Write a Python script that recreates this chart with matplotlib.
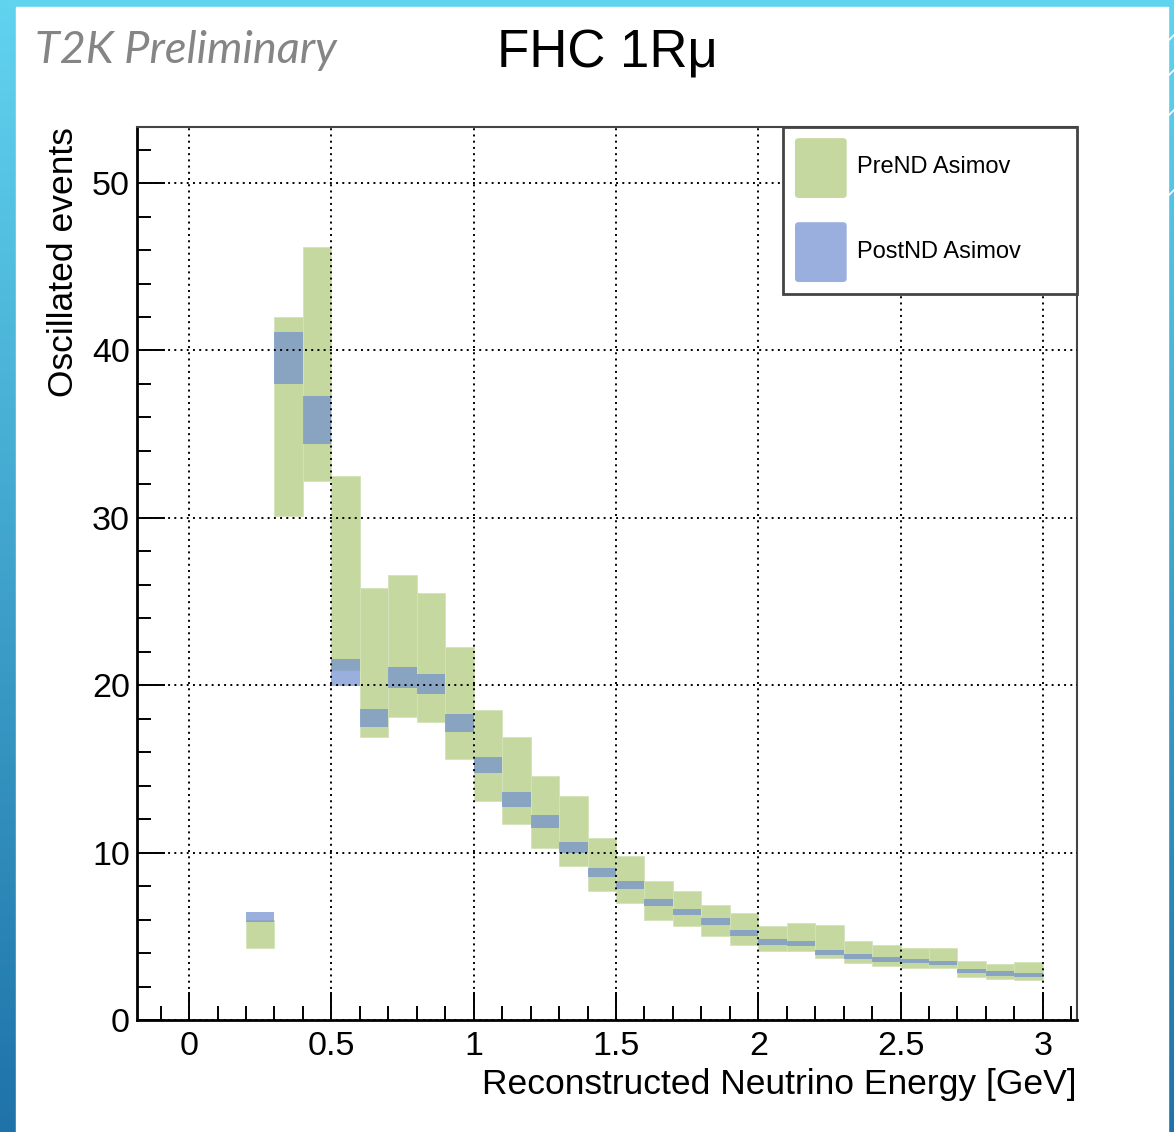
import numpy as np
import matplotlib
matplotlib.use('Agg')
import matplotlib.pyplot as plt
from matplotlib.patches import Rectangle, FancyBboxPatch
from matplotlib.ticker import MultipleLocator

# bin lower edges in GeV (0.1 GeV wide bins)
energy_lo = [0.2, 0.3, 0.4, 0.5, 0.6, 0.7, 0.8, 0.9, 1.0, 1.1, 1.2, 1.3, 1.4, 1.5,
             1.6, 1.7, 1.8, 1.9, 2.0, 2.1, 2.2, 2.3, 2.4, 2.5, 2.6, 2.7, 2.8, 2.9]
bin_width = 0.1

# PreND Asimov error band (low / high edge)
pre_low = [4.3, 30.1, 32.2, 20.9, 16.9, 18.1, 17.8, 15.6, 13.1, 11.7, 10.3, 9.2, 7.7, 7.0,
           6.0, 5.6, 5.0, 4.5, 4.1, 4.1, 3.7, 3.4, 3.2, 3.1, 3.1, 2.55, 2.45, 2.4]
pre_high = [6.0, 42.0, 46.2, 32.5, 25.8, 26.6, 25.5, 22.3, 18.5, 16.9, 14.6, 13.4, 10.9, 9.8,
            8.3, 7.7, 6.9, 6.4, 5.6, 5.8, 5.7, 4.7, 4.5, 4.3, 4.3, 3.5, 3.35, 3.45]

# PostND Asimov error band
post_low = [5.85, 38.0, 34.4, 19.95, 17.5, 19.85, 19.45, 17.2, 14.75, 12.75, 11.5, 9.95, 8.55, 7.85,
            6.8, 6.25, 5.7, 5.0, 4.5, 4.4, 3.9, 3.65, 3.45, 3.4, 3.3, 2.8, 2.65, 2.55]
post_high = [6.45, 41.1, 37.3, 21.55, 18.6, 21.1, 20.7, 18.3, 15.7, 13.6, 12.25, 10.65, 9.1, 8.3,
             7.25, 6.65, 6.1, 5.35, 4.85, 4.7, 4.2, 3.95, 3.75, 3.65, 3.55, 3.05, 2.95, 2.8]

x_ticks = [0, 0.5, 1, 1.5, 2, 2.5, 3]
x_tick_labels = ['0', '0.5', '1', '1.5', '2', '2.5', '3']

green = '#c5d8a0'
blue = '#708ed0'

plt.rcParams['font.family'] = ['Liberation Sans', 'DejaVu Sans']

W, H = 1174, 1132
fig = plt.figure(figsize=(W / 100, H / 100), dpi=100)

# slide background: blue gradient frame + white panel
bg = fig.add_axes([0, 0, 1, 1], zorder=-10)
grad = np.linspace(0, 1, 256).reshape(-1, 1)
top_c = np.array([0.38, 0.83, 0.94])
bot_c = np.array([0.12, 0.45, 0.66])
img = top_c[None, None, :] * (1 - grad[..., None]) + bot_c[None, None, :] * grad[..., None]
img = np.repeat(img, 2, axis=1)
bg.imshow(img, aspect='auto', extent=[0, 1, 0, 1], origin='upper')
bg.add_patch(Rectangle((16 / W, 0), (1168 - 16) / W, 1 - 7 / H, color='white'))
for y0 in [35, 70, 110, 190]:
    bg.plot([1168 / W, 1.0], [1 - (y0 + 6) / H, 1 - y0 / H], color='white', lw=1.2)
bg.set_xlim(0, 1)
bg.set_ylim(0, 1)
bg.axis('off')

ax = fig.add_axes([137 / W, 1 - 1020 / H, (1077 - 137) / W, (1020 - 127) / H])

lo = np.array(energy_lo)
ax.bar(lo, np.array(pre_high) - np.array(pre_low), bottom=pre_low, width=bin_width,
       align='edge', color=green, edgecolor='#d4e3bb', linewidth=0.6, zorder=1)
ax.bar(lo, np.array(post_high) - np.array(post_low), bottom=post_low, width=bin_width,
       align='edge', color=blue, alpha=0.7, linewidth=0, zorder=2)

ax.set_xlim(-0.183, 3.12)
ax.set_ylim(0, 53.35)
ax.set_xticks(x_ticks)
ax.set_xticklabels(x_tick_labels)
ax.xaxis.set_minor_locator(MultipleLocator(0.1))
ax.yaxis.set_major_locator(MultipleLocator(10))
ax.yaxis.set_minor_locator(MultipleLocator(2))

ax.tick_params(which='both', direction='in', top=False, right=False, labelsize=24.5, width=1.4)
ax.tick_params(which='major', length=20)
ax.tick_params(which='minor', length=10)
ax.tick_params(axis='x', pad=8)
ax.tick_params(axis='y', pad=5)

ax.grid(True, which='major', color='black', linestyle=(0, (1, 2.2)), linewidth=1.4)
ax.set_axisbelow(False)

for side in ['left', 'bottom']:
    ax.spines[side].set_linewidth(2)
for side in ['top', 'right']:
    ax.spines[side].set_linewidth(1.5)
    ax.spines[side].set_color('#444444')

ax.set_xlabel('Reconstructed Neutrino Energy [GeV]', fontsize=25.5, loc='right', labelpad=4)
ax.set_ylabel('Oscillated events', fontsize=25.5, loc='top', labelpad=9)

# ROOT-style legend box
ax.add_patch(Rectangle((0.687, 0.813), 0.313, 0.187, transform=ax.transAxes,
                       facecolor='white', edgecolor='#444444', lw=2, zorder=5, clip_on=False))
ax.add_patch(FancyBboxPatch((0.700, 0.9205), 0.055, 0.067, boxstyle='round,pad=0,rounding_size=0.004',
                            transform=ax.transAxes, facecolor=green, edgecolor='none', zorder=6))
ax.add_patch(FancyBboxPatch((0.700, 0.8264), 0.055, 0.067, boxstyle='round,pad=0,rounding_size=0.004',
                            transform=ax.transAxes, facecolor=blue, alpha=0.7, edgecolor='none', zorder=6))
ax.text(0.766, 0.955, 'PreND Asimov', transform=ax.transAxes, fontsize=17, va='center', zorder=7)
ax.text(0.766, 0.860, 'PostND Asimov', transform=ax.transAxes, fontsize=17, va='center', zorder=7)

fig.text(607 / W, 1 - 67 / H, 'FHC 1Rμ', fontsize=38, ha='center', va='baseline')
fig.text(35 / W, 1 - 63 / H, 'T2K Preliminary', fontsize=32.5, family=['Lato', 'DejaVu Sans'],
         style='italic', color='#858585', ha='left', va='baseline')

fig.savefig('out.png', dpi=100)
